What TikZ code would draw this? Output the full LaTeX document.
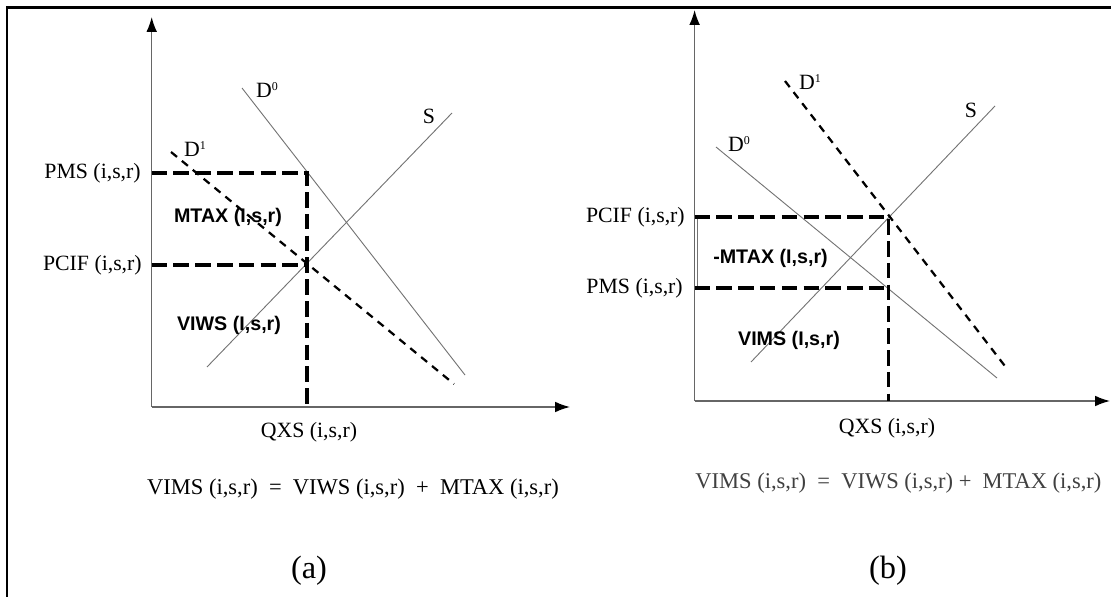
\documentclass[tikz,border=0pt]{standalone}
\usepackage{fontspec}
\setmainfont{Liberation Serif}
\setsansfont{Liberation Sans}
\usetikzlibrary{arrows.meta}

\newcommand{\supidx}[1]{\raisebox{0.75ex}{\fontsize{8.5}{8.5}\selectfont #1}}

\tikzset{
  axis/.style={draw=black!60, line width=1pt, -{Latex[length=10.5pt, width=7.5pt, color=black]}},
  curve/.style={draw=black!55, line width=0.65pt},
  shifted/.style={draw=black, line width=1.6pt, dash pattern=on 5.5pt off 4.5pt},
  guide/.style={draw=black, line width=2.5pt, dash pattern=on 11pt off 4.5pt},
  lbl/.style={font=\fontsize{15.5}{18}\selectfont, inner sep=0pt},
  area/.style={font=\sffamily\bfseries\fontsize{14}{16}\selectfont, inner sep=0pt},
  eqn/.style={font=\fontsize{16}{19}\selectfont, inner sep=0pt},
  panellabel/.style={font=\fontsize{23}{27}\selectfont, inner sep=0pt}
}

\begin{document}
\begin{tikzpicture}[x=0.025cm, y=-0.025cm]
  \useasboundingbox (0,0) rectangle (1111,597);
  \draw[line width=1.6pt] (7,597) -- (7,7.5) -- (1111,7.5);

  % (a)
  \coordinate (oa) at (151.7,407);
  \coordinate (ya) at (151.7,17);
  \coordinate (xa) at (570,407);
  \coordinate (pmsa) at (151.7,173);
  \coordinate (pcifa) at (151.7,265);
  \coordinate (ka) at (307,173);
  \coordinate (ea) at (307,265);
  \coordinate (qa) at (307,407);
  \draw[axis] (oa) -- (ya);
  \draw[axis] (oa) -- (xa);
  \draw[curve] (242,88) -- (465,375);
  \draw[curve] (207,367) -- (452,113);
  \draw[shifted] (171,152) -- (454,384);
  \draw[guide] (pmsa) -- (ka) -- (qa);
  \draw[guide] (pcifa) -- (ea);
  \node[lbl, anchor=east] (pmsla) at (141,173) {PMS (i,s,r)};
  \node[lbl, anchor=east] (pcifla) at (142,265) {PCIF (i,s,r)};
  \node[lbl] (qxsla) at (309,432) {QXS (i,s,r)};
  \node[lbl] (d0a) at (267,90) {D\supidx{0}};
  \node[lbl] (sa) at (429,116) {S};
  \node[lbl] (d1a) at (195,149) {D\supidx{1}};
  \node[area] (mtaxa) at (228,217) {MTAX (I,s,r)};
  \node[area] (viwsa) at (229,325) {VIWS (I,s,r)};
  \node[eqn] (eqa) at (353,489) {VIMS (i,s,r) \ = \ VIWS (i,s,r) \ + \ MTAX (i,s,r)};
  \node[panellabel] (capa) at (309,571) {(a)};

  % (b)
  \coordinate (ob) at (694.6,401);
  \coordinate (yb) at (694.6,10);
  \coordinate (xb) at (1110,401);
  \coordinate (pcifb) at (694.6,217);
  \coordinate (pmsb) at (694.6,288);
  \coordinate (kb) at (888.5,217);
  \coordinate (eb) at (888.5,288);
  \coordinate (qb) at (888.5,401);
  \draw[axis] (ob) -- (yb);
  \draw[axis] (ob) -- (xb);
  \draw[curve] (697.5,217) -- (697.5,288);
  \draw[curve] (716,147) -- (997,378);
  \draw[curve] (751,362) -- (995,106);
  \draw[shifted] (785,81) -- (1008,370);
  \draw[guide] (pcifb) -- (kb) -- (qb);
  \draw[guide] (pmsb) -- (eb);
  \node[lbl, anchor=east] (pcifl) at (685,217) {PCIF (i,s,r)};
  \node[lbl, anchor=east] (pmsl) at (683,288) {PMS (i,s,r)};
  \node[lbl] (qxslb) at (887,428) {QXS (i,s,r)};
  \node[lbl] (d1b) at (810,82) {D\supidx{1}};
  \node[lbl] (sb) at (971,110) {S};
  \node[lbl] (d0b) at (739,144) {D\supidx{0}};
  \node[area] (mtaxb) at (770.5,258) {-MTAX (I,s,r)};
  \node[area] (vimsb) at (789,340) {VIMS (I,s,r)};
  \node[eqn, text=black!75] (eqb) at (898.5,483) {VIMS (i,s,r) \ = \ VIWS (i,s,r) + \ MTAX (i,s,r)};
  \node[panellabel] (capb) at (888,571) {(b)};
\end{tikzpicture}
\end{document}
